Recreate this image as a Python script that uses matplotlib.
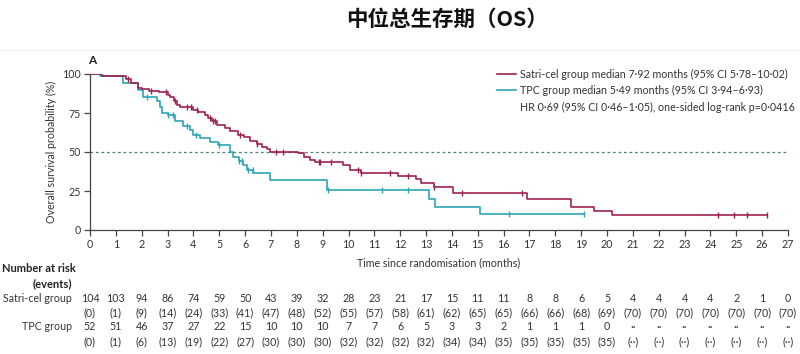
import numpy as np
import matplotlib
matplotlib.use("Agg")
import matplotlib.pyplot as plt
import matplotlib.transforms as mtransforms

# ---------------- data ----------------
satri_t = [0, 0.45, 1.1, 1.4, 1.6, 1.85, 2.0, 2.3, 2.65, 3.0, 3.1, 3.23, 3.35, 3.48, 4.0, 4.19,
           4.45, 4.58, 4.71, 4.9, 5.23, 5.42, 5.74, 5.94, 6.19, 6.45, 6.65, 6.84, 6.97, 8.06,
           8.26, 8.52, 8.71, 9.8, 10.05, 10.5, 11.9, 12.6, 12.8, 13.3, 14.05, 16.9, 18.6, 19.5, 20.2]
satri_s = [100, 99, 98.5, 96.5, 94, 91, 90.5, 89.3, 88.2, 86.5, 85, 82.5, 80.3, 78.8, 77, 75.6,
           74, 71.7, 69.6, 67.5, 65.3, 63.2, 61, 59.3, 57.2, 55, 53.5, 51.8, 50.3, 49.3,
           47.1, 45, 43.9, 41.5, 38.5, 36.3, 34.8, 32.5, 29.9, 27.8, 24, 20, 15, 12.2, 9.8]
satri_end = 26.2
satri_cens = [1.48, 2.35, 2.94, 3.29, 3.74, 3.9, 4.13, 4.65, 4.75, 4.84, 5.8, 6.45, 7.2, 7.48,
              8.84, 8.9, 9.32, 10.35, 10.5, 11.6, 12.3, 13.3, 14.4, 16.7, 24.3, 24.9, 25.4, 26.2]

tpc_t = [0, 0.39, 1.29, 1.87, 2.06, 2.58, 2.71, 2.8, 3.0, 3.29, 3.61, 3.87, 4.0, 4.26, 4.65,
         4.97, 5.42, 5.55, 5.75, 5.9, 6.06, 6.32, 6.97, 9.16, 13.1, 13.35, 15.1]
tpc_s = [100, 98.5, 94.2, 90, 85, 82.4, 79, 75, 73.9, 69.6, 66.4, 64.2, 61, 58.9, 56.3,
         54.2, 50.3, 47.1, 44.3, 41.8, 38.5, 36.4, 32.1, 25.7, 20, 15, 10]
tpc_end = 19.1
tpc_cens = [2.22, 3.0, 3.2, 3.74, 4.1, 5.0, 5.77, 5.87, 6.13, 6.3, 9.22, 11.3, 12.3, 16.2, 19.1]

months = list(range(0, 28))
satri_risk = ["104", "103", "94", "86", "74", "59", "50", "43", "39", "32", "28", "23", "21", "17",
              "15", "11", "11", "8", "8", "6", "5", "4", "4", "4", "4", "2", "1", "0"]
satri_events = ["0", "1", "9", "14", "24", "33", "41", "47", "48", "52", "55", "57", "58", "61",
                "62", "65", "65", "66", "66", "68", "69", "70", "70", "70", "70", "70", "70", "70"]
tpc_risk = ["52", "51", "46", "37", "27", "22", "15", "10", "10", "10", "7", "7", "6", "5",
            "3", "3", "2", "1", "1", "1", "0", "··", "··", "··", "··", "··", "··", "··"]
tpc_events = ["0", "1", "6", "13", "19", "22", "27", "30", "30", "30", "32", "32", "32", "32",
              "34", "34", "35", "35", "35", "35", "35", "··", "··", "··", "··", "··", "··", "··"]

title = "中位总生存期（OS）"
legend_satri = "Satri-cel group median 7·92 months (95% CI 5·78–10·02)"
legend_tpc = "TPC group median 5·49 months (95% CI 3·94–6·93)"
hr_text = "HR 0·69 (95% CI 0·46–1·05), one-sided log-rank p=0·0416"

# ---------------- style ----------------
RED = "#9E2150"
TEAL = "#2CA6B5"
TXT = "#333333"
FONT = ["Lato", "DejaVu Sans"]
plt.rcParams["font.family"] = FONT
fs = 7.7

W, H = 800, 354
fig = plt.figure(figsize=(W / 100, H / 100), dpi=100)
ax = fig.add_axes([90 / W, 1 - 230 / H, (788 - 90) / W, (230 - 74) / H])


def step_xy(t, s, end):
    t = list(t) + [end]
    s = list(s) + [s[-1]]
    return t, s


def surv_at(t, s, x):
    idx = np.searchsorted(np.array(t), x, side="right") - 1
    return np.array(s)[idx]


st, ss = step_xy(satri_t, satri_s, satri_end)
tt, ts = step_xy(tpc_t, tpc_s, tpc_end)

ax.axhline(50, color="#4F7F82", lw=0.9, ls=(0, (2.2, 2.2)), zorder=1)
ax.step(st, ss, where="post", color=RED, lw=1.2, zorder=3)
ax.step(tt, ts, where="post", color=TEAL, lw=1.2, zorder=2)
ax.plot(satri_cens, surv_at(satri_t, satri_s, satri_cens), ls="none", marker="|",
        ms=5, mew=1.0, color=RED, zorder=4)
ax.plot(tpc_cens, surv_at(tpc_t, tpc_s, tpc_cens), ls="none", marker="|",
        ms=5, mew=1.0, color=TEAL, zorder=3)

ax.set_xlim(0, 27)
ax.set_ylim(0, 100)
ax.set_xticks(months)
ax.set_yticks([0, 25, 50, 75, 100])
for sp in ["top", "right"]:
    ax.spines[sp].set_visible(False)
for sp in ["left", "bottom"]:
    ax.spines[sp].set_color("#444444")
    ax.spines[sp].set_linewidth(0.9)
ax.tick_params(axis="both", direction="out", length=4, width=0.9, color="#444444",
               labelsize=fs, labelcolor=TXT, pad=2.5)
ax.set_xlabel("Time since randomisation (months)", fontsize=fs, color=TXT, labelpad=5)
ax.set_ylabel("Overall survival probability (%)", fontsize=fs, color=TXT, labelpad=4)

# legend
lx0, lx1, tx = 497, 516, 520
for y, col, txt in [(74, RED, legend_satri), (90, TEAL, legend_tpc)]:
    fig.add_artist(plt.Line2D([lx0 / W, lx1 / W], [1 - y / H, 1 - y / H], color=col, lw=1.2))
    fig.text(tx / W, 1 - y / H, txt, fontsize=fs, color=TXT, va="center", ha="left")
fig.text(tx / W, 1 - 107 / H, hr_text, fontsize=fs, color=TXT, va="center", ha="left")

# title, panel label, separator
fig.text(447 / W, 1 - 19 / H, title, fontsize=15.5, fontweight="bold",
         family=["Noto Sans CJK SC", "DejaVu Sans"], ha="center", va="center", color="#111111")
fig.add_artist(plt.Line2D([0, 1], [1 - 50 / H, 1 - 50 / H], color="#F2F2F2", lw=0.8))
fig.text(92 / W, 1 - 60 / H, "A", fontsize=8.5, fontweight="bold", ha="center", va="center", color="#222222")

# number at risk table
trans = mtransforms.blended_transform_factory(ax.transData, fig.transFigure)
fig.text(2 / W, 1 - 269 / H, "Number at risk", fontsize=fs + 0.3, fontweight="bold", color="#222222",
         ha="left", va="center")
fig.text(72 / W, 1 - 284 / H, "(events)", fontsize=fs + 0.3, fontweight="bold", color="#222222",
         ha="right", va="center")
fig.text(72 / W, 1 - 298 / H, "Satri-cel group", fontsize=fs, color=TXT, ha="right", va="center")
fig.text(72 / W, 1 - 327 / H, "TPC group", fontsize=fs, color=TXT, ha="right", va="center")
for m, a, b, c, d in zip(months, satri_risk, satri_events, tpc_risk, tpc_events):
    ax.text(m, 1 - 298 / H, a, transform=trans, fontsize=fs, color=TXT, ha="center", va="center")
    ax.text(m, 1 - 313 / H, f"({b})", transform=trans, fontsize=fs, color=TXT, ha="center", va="center")
    ax.text(m, 1 - 327 / H, c, transform=trans, fontsize=fs, color=TXT, ha="center", va="center")
    ax.text(m, 1 - 342 / H, f"({d})", transform=trans, fontsize=fs, color=TXT, ha="center", va="center")

fig.savefig("out.png", dpi=100)
